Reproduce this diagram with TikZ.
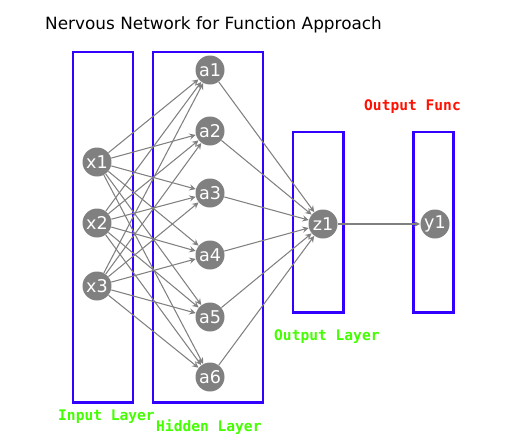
\documentclass[tikz,border=0pt]{standalone}
\usepackage{fontspec}
\setmainfont{DejaVu Sans}
\newfontfamily\labelfont{DejaVu Sans Mono}
\usetikzlibrary{arrows, positioning}
\definecolor{boxblue}{RGB}{51,0,255}
\definecolor{labgreen}{RGB}{68,255,0}
\definecolor{labred}{RGB}{255,16,0}
\definecolor{neurongray}{RGB}{128,128,128}

\begin{document}
\begin{tikzpicture}[x=0.02cm, y=-0.02cm,
    neuron/.style={circle, fill=neurongray, text=white, minimum size=0.58cm,
                   inner sep=0pt, font=\fontsize{10}{11}\selectfont},
    layerbox/.style={draw=boxblue, line width=1.7pt},
    layerlabel/.style={font=\labelfont\bfseries\fontsize{8.3}{9}\selectfont, anchor=west},
    arrow/.style={->, >=stealth, draw=neurongray, line width=0.6pt}]

    \useasboundingbox (0,0) rectangle (513,447);

    % Title
    \node[anchor=west, font=\fontsize{9.6}{11}\selectfont] (title) at (39,25) {Nervous Network for Function Approach};

    % Boxes
    \draw[layerbox] (73,52) rectangle (133,402);
    \draw[layerbox] (153,52) rectangle (263,402);
    \draw[layerbox] (293,132) rectangle (343,312);
    \draw[layerbox] (413,132) rectangle (453,312);

    % Nodes
    \node[neuron] (x1) at (97,162) {x1};
    \node[neuron] (x2) at (97,223) {x2};
    \node[neuron] (x3) at (97,286) {x3};
    \node[neuron] (a1) at (210,70) {a1};
    \node[neuron] (a2) at (210,131) {a2};
    \node[neuron] (a3) at (210,193) {a3};
    \node[neuron] (a4) at (210,255) {a4};
    \node[neuron] (a5) at (210,317) {a5};
    \node[neuron] (a6) at (210,377) {a6};
    \node[neuron] (z1) at (323,224) {z1};
    \node[neuron] (y1) at (435,224) {y1};

    % Labels
    \node[layerlabel, text=labgreen] (inlabel) at (52,417) {Input Layer};
    \node[layerlabel, text=labgreen] (hidlabel) at (150,427) {Hidden Layer};
    \node[layerlabel, text=labgreen] (outlabel) at (268,337) {Output Layer};
    \node[layerlabel, text=labred] (funclabel) at (358,107) {Output Func};

    % Arrows
    \foreach \i in {1,2,3}
        \foreach \j in {1,...,6}
            \draw[arrow] (x\i) -- (a\j);
    \foreach \j in {1,...,6}
        \draw[arrow] (a\j) -- (z1);
    \draw[arrow] (z1) -- (y1);

\end{tikzpicture}
\end{document}
